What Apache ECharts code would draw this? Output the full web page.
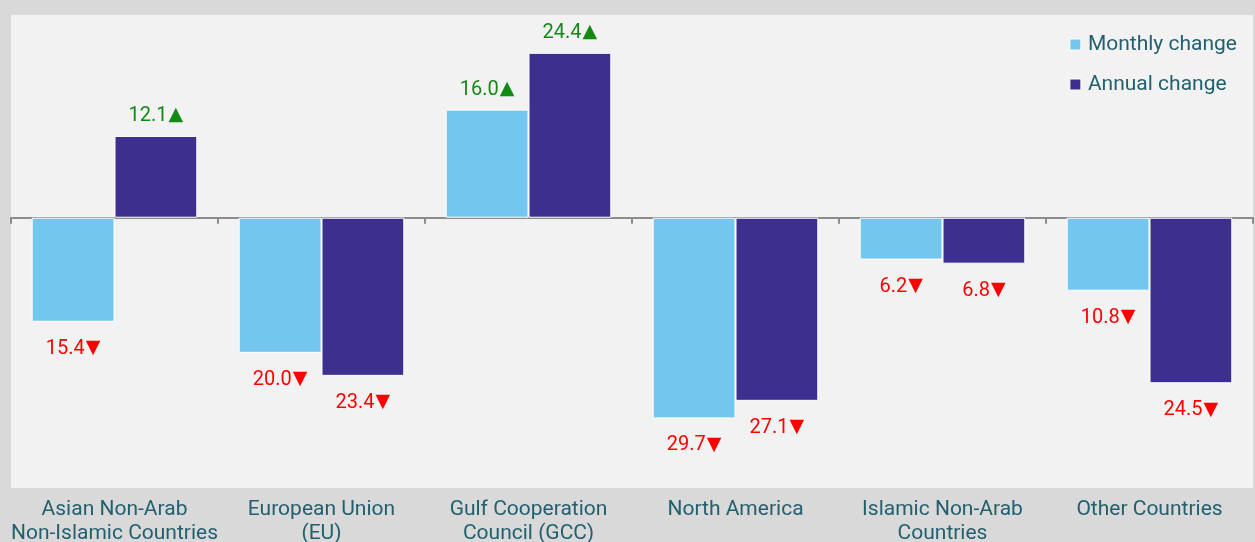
<!DOCTYPE html>
<html>
<head>
<meta charset="utf-8">
<script src="https://cdn.jsdelivr.net/npm/echarts@6/dist/echarts.min.js"></script>
<style>
    html, body {margin: 0; padding: 0; background: #d9d9d9;}
    #chart {width: 1255px; height: 542px;}
</style>
</head>
<body>
<div id="chart"></div>
<script>
let categories = ['Asian Non-Arab\nNon-Islamic Countries', 'European Union\n(EU)', 'Gulf Cooperation\nCouncil (GCC)', 'North America', 'Islamic Non-Arab\nCountries', 'Other Countries'];
let monthly = [-15.4, -20.0, 16.0, -29.7, -6.2, -10.8];
let annual = [12.1, -23.4, 24.4, -27.1, -6.8, -24.5];

let textColor = '#22606f';
let fontName = 'Roboto';

// 正负值不同颜色和箭头
function toItems(values) {
    return values.map(v => ({
        value: v,
        label: {
            position: v >= 0 ? 'top' : 'bottom',
            distance: v >= 0 ? 10 : 17,
            color: v >= 0 ? '#138a13' : '#ff0000',
            formatter: '{n|' + Math.abs(v).toFixed(1) + '}{t|' + (v >= 0 ? '▲' : '▼') + '}'
        }
    }));
}

let labelStyle = {
    show: true,
    rich: {
        n: {fontSize: 20, fontFamily: fontName},
        t: {fontSize: 19, fontFamily: 'DejaVu Sans', padding: [0, 0, 1, 1]}
    }
};

let myChart = echarts.init(document.getElementById('chart'));
myChart.setOption({
    backgroundColor: '#d9d9d9',
    animation: false,
    grid: {
        left: 11, right: 2, top: 15, bottom: 54,
        outerBoundsMode: 'none',
        containLabel: false,
        show: true, backgroundColor: '#f2f2f2', borderWidth: 0
    },
    legend: {
        orient: 'vertical',
        right: 13,
        top: 29,
        itemGap: 19,
        itemWidth: 11,
        itemHeight: 11,
        icon: 'rect',
        textStyle: {color: textColor, fontSize: 21, fontFamily: fontName, padding: [0, 0, 0, 2]},
        data: [
            {name: 'Monthly change', itemStyle: {borderColor: '#fff', borderWidth: 1}},
            {name: 'Annual change', itemStyle: {borderColor: '#fff', borderWidth: 1}}
        ]
    },
    xAxis: [
        {
            type: 'category',
            data: categories,
            axisLine: {onZero: true, lineStyle: {color: '#8c8c8c', width: 2}},
            axisTick: {show: true, length: 6, lineStyle: {color: '#8c8c8c', width: 2}},
            axisLabel: {show: false}
        },
        {
            type: 'category',
            data: categories,
            position: 'bottom',
            axisLine: {show: false, onZero: false},
            axisTick: {show: false},
            axisLabel: {
                margin: 10,
                color: textColor,
                fontSize: 21,
                lineHeight: 24,
                fontFamily: fontName,
                interval: 0
            }
        }
    ],
    yAxis: {
        type: 'value',
        min: -40,
        max: 30,
        show: false,
        splitLine: {show: false}
    },
    series: [
        {
            name: 'Monthly change',
            type: 'bar',
            data: toItems(monthly),
            barGap: '0%',
            barCategoryGap: '20%',
            itemStyle: {color: '#73c6ef', borderColor: '#fff', borderWidth: 1},
            label: labelStyle
        },
        {
            name: 'Annual change',
            type: 'bar',
            data: toItems(annual),
            barGap: '0%',
            barCategoryGap: '20%',
            itemStyle: {color: '#3c2f8f', borderColor: '#fff', borderWidth: 1},
            label: labelStyle
        }
    ]
});
</script>
</body>
</html>
